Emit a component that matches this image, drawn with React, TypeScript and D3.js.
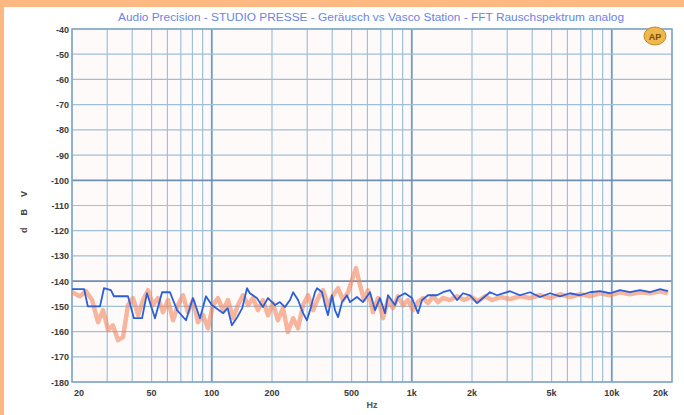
import React from 'react'
import { scaleLog, scaleLinear, line } from 'd3'

// readings, Hz / dBV
const blueFreq = [20, 23, 24, 27.6, 28.9, 31.3, 32.4, 38.1, 40.8, 44.8, 47.4, 52, 56.4, 61.8, 67, 74.3, 80.5, 87.3, 93.5, 100,
  114, 120, 126, 134, 142, 150, 155, 168, 180, 191, 207, 219, 232, 246, 255, 270, 286, 299, 310, 328, 336, 356, 368, 381, 399,
  413, 428, 448, 474, 491, 532, 570, 618, 655, 693, 735, 760, 824, 853, 925, 1002, 1074, 1125, 1205, 1337, 1432, 1552, 1683,
  1803, 1954, 2118, 2270, 2460, 2667, 3098, 3476, 3900, 4375, 4910, 5508, 6180, 6935, 7781, 8730, 9796, 10990, 12330, 13840,
  15520, 17420, 19100]
const blueDb = [-143.2, -143.2, -150, -150, -142.8, -143.6, -146, -146, -154.7, -154.7, -144.8, -154.7, -144.4, -144.4, -151.5,
  -155.5, -146.7, -154.7, -146, -149.5, -152.7, -150.7, -157.5, -154.3, -150.7, -142.8, -144.8, -146.7, -150.3, -146.7, -149.5,
  -148.3, -150.3, -147.5, -144.4, -147.5, -152.7, -155.5, -151.5, -144.4, -142.8, -144.4, -149.5, -153.5, -145.6, -151.5, -154.3,
  -148.3, -145.6, -148.3, -146.3, -148.3, -144.4, -151.5, -146.7, -152.7, -145.6, -149.5, -146.3, -144.8, -146.7, -152.7, -147.5,
  -145.6, -145.6, -144.4, -143.6, -147.5, -144.8, -145.6, -148.7, -146.7, -144.4, -145.6, -144, -145.6, -144.4, -146.3, -144.8,
  -146, -144.8, -145.6, -144.4, -144, -144.8, -143.6, -144.4, -143.6, -144.4, -143.2, -144]

const orangeFreq = [20, 21.9, 23.5, 25.2, 27, 28.6, 30.3, 32, 34, 36, 38.1, 40.4, 42.8, 45.3, 48, 50.8, 53.8, 57, 60.4, 64,
  67.8, 71.8, 76, 80.5, 85.3, 90.4, 95.7, 101.4, 107.4, 113.8, 120.5, 127.7, 135.2, 143.2, 151.7, 160.7, 170.2, 180, 191, 202,
  214, 227, 240, 255, 270, 286, 303, 321, 340, 360, 381, 404, 428, 453, 480, 502, 526, 551, 577, 604, 640, 678, 718, 760, 805,
  853, 904, 957, 1014, 1074, 1138, 1205, 1277, 1352, 1432, 1552, 1683, 1824, 1977, 2143, 2323, 2518, 2761, 3098, 3476, 3900,
  4375, 4910, 5508, 6180, 6935, 7781, 8730, 9796, 10990, 12330, 13840, 15520, 17420, 19100]
const orangeDb = [-144.4, -146, -144, -147.5, -156.3, -151.5, -159.4, -157.5, -163.4, -162.2, -149.5, -146.7, -153.5, -147.5,
  -143.6, -149.5, -146.7, -152.3, -147.5, -155.5, -149.5, -145.6, -152.3, -147.5, -156.3, -153.5, -158.7, -149.5, -146.7, -151.5,
  -147.5, -154.7, -149.5, -145.6, -149.5, -146.7, -151.5, -147.5, -153.5, -148.7, -155.5, -150.7, -160.2, -154.7, -158.7, -149.5,
  -145.6, -151.5, -146.7, -143.6, -149.5, -145.6, -142.8, -147.5, -144.4, -139.6, -134.8, -141.6, -147.5, -143.6, -152.3, -146.7,
  -154.7, -147.5, -150.7, -146, -149.5, -147.5, -151.5, -148.3, -146.7, -148.7, -146, -148.3, -146.7, -147.5, -146, -147.5, -146.3,
  -147.9, -146, -147.5, -146.3, -147.1, -146, -146.7, -145.6, -146.7, -145.2, -146.3, -145.2, -146, -144.8, -145.6, -144.4, -145.2,
  -144.4, -144.8, -144, -144.8]

const yTicks = [-40, -50, -60, -70, -80, -90, -100, -110, -120, -130, -140, -150, -160, -170, -180]
const xTickValues = [20, 50, 100, 200, 500, 1000, 2000, 5000, 10000, 20000]
const xTickLabels = ['20', '50', '100', '200', '500', '1k', '2k', '5k', '10k', '20k']
const gridFreqs = [20, 30, 40, 50, 60, 70, 80, 90, 100, 200, 300, 400, 500, 600, 700, 800, 900, 1000,
  2000, 3000, 4000, 5000, 6000, 7000, 8000, 9000, 10000, 20000]

const title = 'Audio Precision - STUDIO PRESSE - Geräusch vs Vasco Station - FFT Rauschspektrum analog'

const W = 684, H = 415
const left = 72, right = 672, top = 29, bottom = 382

export default function App() {
  const x = scaleLog().domain([20, 20000]).range([left, right])
  const y = scaleLinear().domain([-180, -40]).range([bottom, top])

  const trace = line<[number, number]>().x(d => x(d[0])).y(d => y(d[1]))
  const orangePath = trace(orangeFreq.map((f, i) => [f, orangeDb[i]]))
  const bluePath = trace(blueFreq.map((f, i) => [f, blueDb[i]]))

  const font = "'Liberation Sans', Arial, sans-serif"

  return (
    <svg width={W} height={H} style={{ position: 'fixed', left: 0, top: 0, background: '#fff' }}>
      <rect x={0} y={0} width={W} height={7} fill='#fdb981' />
      <rect x={0} y={0} width={4} height={H} fill='#fdb981' />

      <rect x={left} y={top} width={right - left} height={bottom - top} fill='#fffafa' />

      {/* vertical grid */}
      {gridFreqs.map(f => {
        const decade = [100, 1000, 10000].includes(f)
        return <line key={'v' + f} x1={x(f)} x2={x(f)} y1={top} y2={bottom}
          stroke={decade ? '#6f9cc0' : '#9fc0da'} strokeWidth={decade ? 1.8 : 1.2} />
      })}
      {/* horizontal grid */}
      {yTicks.map(t => {
        const strong = t === -100 || t === -140
        return <line key={'h' + t} x1={left} x2={right} y1={y(t)} y2={y(t)}
          stroke={strong ? '#6f8fae' : '#9fbfd6'} strokeWidth={strong ? 1.8 : 1.2} />
      })}
      <rect x={left} y={top} width={right - left} height={bottom - top} fill='none' stroke='#7fa6c6' strokeWidth={1.5} />

      <path d={orangePath ?? ''} fill='none' stroke='#f4875f' strokeOpacity={0.6} strokeWidth={4.5} strokeLinejoin='round' />
      <path d={bluePath ?? ''} fill='none' stroke='#2b5fd8' strokeWidth={1.8} strokeLinejoin='round' />

      {yTicks.map(t => (
        <text key={'yl' + t} x={69} y={y(t) + 3.5} textAnchor='end' fontFamily={font} fontSize={9}
          fontWeight='bold' fill='#3a3a3a'>{t}</text>
      ))}
      {xTickValues.map((v, i) => (
        <text key={'xl' + v} x={x(v)} y={396}
          textAnchor={i === 0 ? 'start' : i === xTickValues.length - 1 ? 'end' : 'middle'}
          dx={i === 0 ? 2 : i === xTickValues.length - 1 ? -4 : 0}
          fontFamily={font} fontSize={9} fontWeight='bold' fill='#3a3a3a'>{xTickLabels[i]}</text>
      ))}
      <text x={372} y={408} textAnchor='middle' fontFamily={font} fontSize={9} fontWeight='bold' fill='#555'>Hz</text>
      <text transform='translate(27,206) rotate(-90)' textAnchor='middle' fontFamily={font} fontSize={9}
        fontWeight='bold' fill='#444' letterSpacing={12}>dBV</text>

      <text x={371} y={21} textAnchor='middle' fontFamily={font} fontSize={10} fill='#6a84e6'
        textLength={506} lengthAdjust='spacingAndGlyphs'>{title}</text>

      <ellipse cx={655} cy={36} rx={11} ry={9} fill='#eeb84a' stroke='#c58a2a' strokeWidth={1} />
      <text x={655} y={39.5} textAnchor='middle' fontFamily={font} fontSize={9} fontWeight='bold' fill='#7a4a10'>AP</text>
    </svg>
  )
}
